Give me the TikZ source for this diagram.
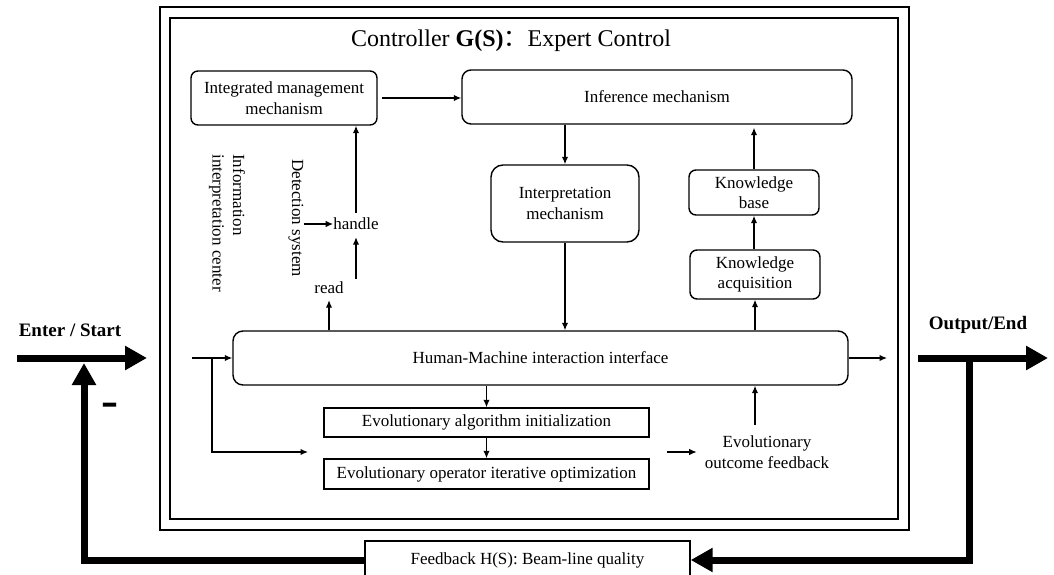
\documentclass[tikz,border=0pt]{standalone}
\usepackage{fontspec}
\setmainfont{Liberation Serif}
\newfontfamily\cjk{Noto Sans CJK SC}
\usetikzlibrary{arrows.meta}
\tikzset{
  txt/.style={font=\fontsize{17}{20.5}\selectfont, align=center, inner sep=0pt},
  rbox/.style={txt, draw, line width=1.4pt, rounded corners=#1},
  rbox/.default=6pt,
  sbox/.style={txt, draw, line width=1.4pt},
  arr/.style={line width=1.3pt, -{Latex[length=7.5pt,width=6.5pt]}},
  frame/.style={line width=1.6pt},
  big/.style={line width=7pt, line join=miter},
  bigarr/.style={big, -{Triangle[length=22pt,width=23pt]}},
  bold/.style={font=\fontsize{19}{22}\selectfont\bfseries, inner sep=0pt}
}
\begin{document}
\begin{tikzpicture}[x=1pt,y=-1pt]
\useasboundingbox (0,0) rectangle (1054,575);
\clip (0,0) rectangle (1054,575);
% frames
\draw[frame] (160,7) rectangle (909,530);
\draw[frame] (170,18) rectangle (898,519);
% title
\node[inner sep=0pt, font=\fontsize{24}{28}\selectfont] (title) at (511,41) {Controller \textbf{G(S)}{\cjk ：}Expert Control};
% boxes
\node[rbox=7pt, minimum width=186pt, minimum height=54pt] (integ) at (284,98) {Integrated management\\mechanism};
\node[rbox=9pt, minimum width=390pt, minimum height=54pt] (infer) at (657,97) {Inference mechanism};
\node[rbox=12pt, minimum width=148pt, minimum height=77pt] (interp) at (565,203.5) {Interpretation\\mechanism};
\node[rbox=7pt, minimum width=130pt, minimum height=45pt] (kb) at (754,192.5) {Knowledge\\base};
\node[rbox=7pt, minimum width=130pt, minimum height=49pt] (ka) at (755,274.5) {Knowledge\\acquisition};
\node[rbox=10pt, minimum width=615pt, minimum height=54pt] (hmi) at (540.5,358) {Human-Machine interaction interface};
\node[sbox, minimum width=325pt, minimum height=29pt] (evoinit) at (486.5,422.5) {Evolutionary algorithm initialization};
\node[sbox, minimum width=325pt, minimum height=30pt] (evoop) at (486.5,474) {Evolutionary operator iterative optimization};
\node[txt] (evofb) at (767,452) {Evolutionary\\outcome feedback};
\node[sbox, minimum width=325pt, minimum height=38pt] (fb) at (527.5,560) {Feedback H(S): Beam-line quality};
% left side texts
\node[txt, rotate=-90, align=left] (info) at (227,223) {Information\\interpretation center};
\node[txt, rotate=-90] (detect) at (296,218) {Detection system};
\node[txt] (handle) at (356,224) {handle};
\node[txt] (read) at (329,288) {read};
% outer labels
\node[bold] (enter) at (70,330) {Enter / Start};
\node[bold] (output) at (978,325) {Output/End};
\node[inner sep=0pt, yscale=2.2, font=\fontsize{26}{28}\selectfont\bfseries] (minus) at (110,411) {--};
% coordinates
\coordinate (inL) at (192,358);
\coordinate (br) at (212,358);
\coordinate (brEnd) at (308,452);
\coordinate (hmiOut) at (887,358);
\coordinate (evomid) at (667,452);
\coordinate (bigStart) at (17,358);
\coordinate (bigTip) at (147,358);
\coordinate (outStart) at (918,358);
\coordinate (outTip) at (1048,358);
\coordinate (outJ) at (969,358);
\coordinate (fbL) at (84,560);
\coordinate (fbTip) at (84,363);
\coordinate (fbR) at (969,560);
% thin connectors
\draw[arr, shorten <=4pt] (integ.east) -- (infer.west |- integ.east);
\draw[arr] (interp.north |- infer.south) -- (interp.north);
\draw[arr] (interp.south) -- (interp.south |- hmi.north);
\draw[arr] (ka.south |- hmi.north) -- (ka.south);
\draw[arr] (kb.south |- ka.north) -- (kb.south);
\draw[arr, shorten >=3pt] (kb.north) -- (kb.north |- infer.south);
\draw[arr] (inL) -- (hmi.west |- inL);
\draw[arr] (br) |- (brEnd);
\draw[arr] (hmi.east) -- (hmiOut);
\draw[arr] (evoinit.north |- hmi.south) -- (evoinit.north);
\draw[arr] (evoinit.south) -- (evoop.north);
\draw[arr, shorten >=8pt] (evomid) -- (evofb.west |- evomid);
\draw[arr, shorten <=11pt] (ka.south |- evofb.north) -- (ka.south |- hmi.south);
\draw[arr] (detect.north |- handle.center) -- (handle.west);
\draw[arr, shorten <=5pt] (handle.north) -- (handle.north |- integ.south);
\draw[arr, shorten <=3pt, shorten >=7pt] (handle.south |- read.north) -- (handle.south);
\draw[arr, shorten >=6pt] (read.south |- hmi.north) -- (read.south);
% thick connectors
\draw[bigarr] (bigStart) -- (bigTip);
\draw[bigarr] (outStart) -- (outTip);
\draw[bigarr] (fb.west) -- (fbL) -- (fbTip);
\draw[bigarr] (outJ) -- (fbR) -- (fb.east);
\end{tikzpicture}
\end{document}
